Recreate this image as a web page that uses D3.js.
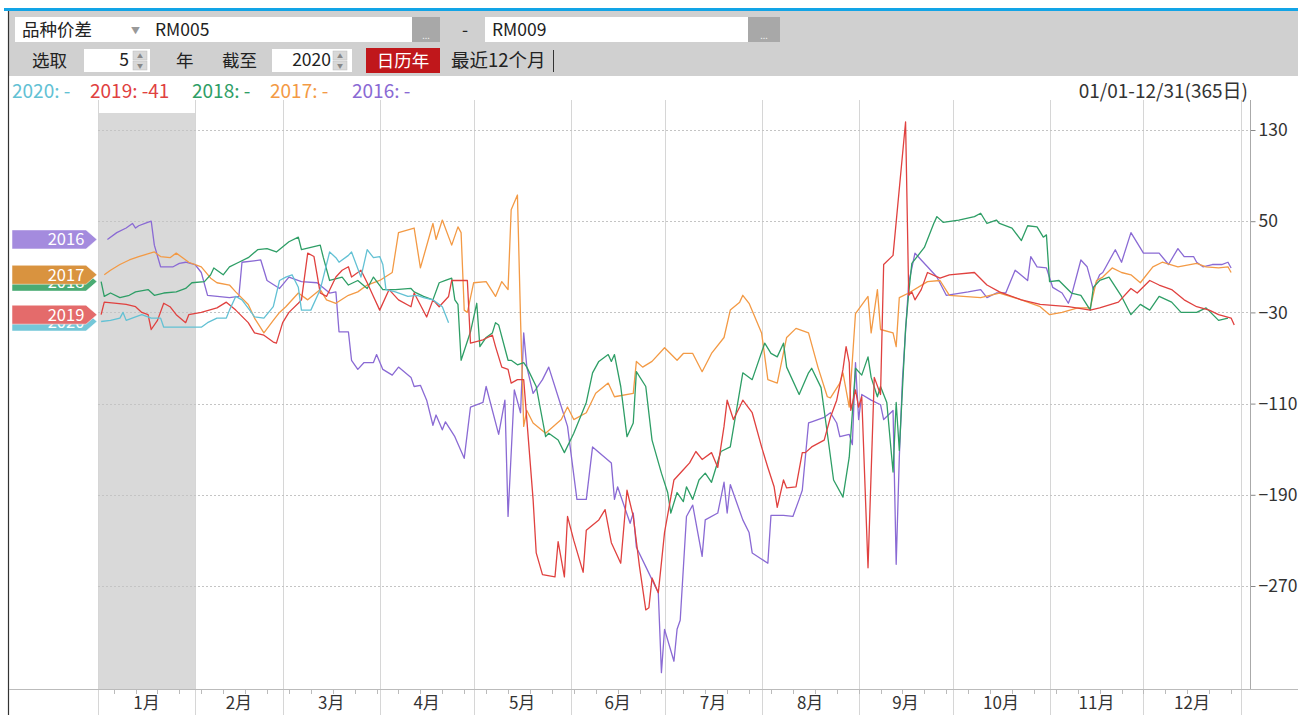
<!DOCTYPE html>
<html><head><meta charset="utf-8">
<script src="https://cdn.jsdelivr.net/npm/d3@7/dist/d3.min.js"></script>
<style>
body{margin:0;background:#fff;overflow:hidden}
svg{display:block;font-family:"Noto Sans CJK SC","Noto Sans",sans-serif}
</style></head>
<body><svg id="c" width="1298" height="715"></svg>
<script>
// ---------- data (day of year, spread value) ----------
const years = ["2020","2019","2018","2017","2016"];
const lastValues = ["-","-41","-","-","-"];
const monthLabels = ["1月","2月","3月","4月","5月","6月","7月","8月","9月","10月","11月","12月"];
const monthStarts = [0,31,59,90,120,151,181,212,243,273,304,334,365];
const yTicks = [130,50,-30,-110,-190,-270];

const s2020 = [[1,-38],[4,-37],[7,-35],[8,-30],[9,-37],[12,-34],[14,-32],[17,-35],[20,-35],[21,-43],[27,-43],[33,-43],[35,-39],[38,-35],[41,-35],[42,-28],[44,-16],[46,-19],[49,-30],[50,-34],[53,-35],[56,-25],[58,-2],[60,1],[62,3],[64,-8],[65,-28],[68,-28],[71,-10],[74,23],[76,18],[77,14],[80,20],[81,23],[84,1],[86,25],[88,18],[90,19],[91,12],[92,-10],[95,-12],[99,-16],[102,-15],[104,-17],[107,-19],[110,-25],[112,-39]];

const s2019 = [[1,-32],[2,-21],[6,-22],[9,-23],[12,-25],[14,-30],[16,-32],[17,-45],[19,-37],[21,-22],[23,-25],[25,-32],[28,-39],[29,-32],[33,-30],[38,-26],[41,-21],[44,-28],[48,-39],[50,-48],[53,-50],[56,-56],[57,-57],[59,-39],[61,-30],[64,-22],[65,-19],[67,22],[69,19],[71,-13],[73,-16],[76,1],[78,7],[80,10],[81,1],[84,7],[86,-4],[88,-16],[90,-28],[93,-10],[96,-19],[100,-25],[101,-13],[105,-34],[107,-19],[109,-25],[112,-16],[113,-2],[118,-2],[119,-57],[123,-54],[126,-50],[127,-60],[129,-78],[131,-80],[132,-92],[134,-89],[136,-89],[139,-194],[140,-241],[142,-260],[146,-262],[147,-231],[149,-262],[150,-209],[152,-230],[155,-258],[156,-221],[160,-212],[162,-203],[164,-232],[167,-250],[169,-186],[171,-209],[173,-253],[175,-291],[176,-289],[177,-263],[179,-276],[181,-223],[184,-177],[187,-168],[189,-162],[191,-152],[193,-159],[196,-153],[198,-166],[200,-130],[201,-107],[203,-124],[205,-113],[206,-107],[209,-118],[212,-148],[214,-166],[216,-183],[217,-201],[219,-177],[220,-184],[223,-183],[225,-153],[226,-153],[228,-148],[232,-142],[234,-122],[236,-107],[238,-80],[239,-60],[240,-74],[240.5,-116],[242,-98],[243,-113],[244,-104],[246,-254],[248,-87],[250,-102],[251,12],[254,20],[258,137],[259,-15],[260,-12],[261,-19],[263,-10],[265,5],[269,0],[272,3],[280,5],[284,-6],[288,-12],[295,-19],[301,-23],[310,-25],[317,-28],[320,-26],[326,-21],[330,-9],[332,-13],[336,-2],[339,-6],[343,-10],[347,-19],[351,-25],[355,-28],[358,-32],[362,-35],[363,-41]];

const s2018 = [[1,-3],[2,-16],[4,-13],[7,-17],[10,-15],[12,-12],[16,-10],[18,-15],[21,-13],[25,-12],[28,-9],[30,-4],[34,-3],[36,3],[37,9],[40,3],[42,10],[45,14],[48,18],[51,25],[54,26],[57,23],[61,32],[64,36],[65,25],[71,29],[72,18],[74,-2],[78,1],[80,-6],[83,-2],[86,-9],[88,1],[91,-10],[95,-10],[100,-9],[101,-12],[104,-16],[107,-19],[109,-4],[111,-2],[113,0],[114,-19],[115,-23],[116,-72],[119,-47],[121,-22],[122,-60],[124,-52],[126,-48],[127,-39],[128,-41],[131,-72],[132,-72],[134,-76],[136,-74],[137,-78],[140,-95],[143,-139],[144,-136],[147,-142],[149,-153],[152,-136],[156,-109],[158,-83],[160,-73],[163,-67],[164,-73],[165,-67],[167,-95],[169,-139],[171,-127],[172,-82],[175,-95],[177,-142],[180,-171],[182,-188],[183,-206],[185,-188],[187,-196],[188,-183],[190,-194],[192,-177],[194,-171],[196,-179],[199,-152],[202,-148],[206,-83],[209,-89],[213,-57],[215,-66],[217,-69],[219,-57],[220,-78],[224,-102],[227,-83],[228,-79],[231,-96],[233,-136],[235,-177],[238,-192],[240,-157],[242,-79],[244,-85],[246,-69],[247,-87],[249,-104],[250,-95],[252,-109],[254,-170],[255,-109],[256,-151],[258,-44],[259,-13],[260,13],[264,27],[267,48],[268,54],[270,49],[275,51],[280,54],[282,57],[284,48],[287,51],[288,48],[292,44],[295,33],[297,46],[300,45],[302,36],[303,38],[304,-3],[307,-2],[311,-13],[314,-15],[317,-28],[318,-8],[320,-2],[323,1],[327,-16],[330,-32],[333,-23],[336,-28],[339,-16],[343,-21],[346,-30],[351,-30],[354,-26],[358,-37],[361,-35]];

const s2017 = [[2,3],[4,7],[7,12],[10,16],[13,19],[18,23],[20,19],[23,18],[25,22],[29,14],[33,10],[36,0],[38,-4],[42,-6],[44,-12],[48,-23],[50,-35],[53,-48],[56,-37],[58,-30],[60,-25],[64,-13],[67,-19],[71,-10],[73,-19],[76,-22],[80,-15],[83,-12],[86,-6],[90,-2],[94,5],[96,40],[101,44],[103,9],[107,48],[108,34],[110,51],[113,29],[115,45],[116,40],[117,-28],[118,-30],[120,-4],[124,-3],[127,-16],[129,-3],[131,-10],[132,60],[134,73],[135,-37],[136,-130],[137,-116],[139,-127],[143,-136],[148,-124],[150,-113],[152,-124],[156,-118],[159,-101],[163,-92],[165,-104],[171,-101],[172,-73],[174,-78],[177,-73],[181,-61],[185,-72],[187,-66],[190,-66],[193,-82],[196,-66],[200,-52],[202,-28],[205,-21],[206,-15],[208,-22],[212,-48],[214,-89],[217,-92],[220,-52],[223,-44],[227,-48],[230,-78],[233,-104],[234,-105],[237,-92],[238,-83],[240,-113],[242,-31],[246,-16],[247,-48],[249,-10],[250,-45],[254,-48],[255,-60],[256,-17],[259,-13],[265,-3],[269,-2],[272,-15],[282,-17],[288,-13],[295,-19],[301,-25],[304,-32],[308,-30],[313,-26],[317,-26],[319,-2],[321,1],[324,9],[327,5],[330,3],[333,-4],[337,10],[340,14],[345,10],[351,13],[354,10],[358,9],[361,10],[362,5]];

const s2016 = [[3,34],[6,40],[9,44],[11,48],[12,44],[13,46],[15,48],[17,50],[18,29],[20,10],[24,10],[26,13],[28,14],[31,12],[33,5],[35,-15],[42,-17],[45,-16],[46,14],[52,16],[54,-2],[58,-9],[61,1],[65,-3],[70,-4],[74,-13],[76,-12],[77,-47],[80,-47],[81,-72],[83,-80],[85,-74],[88,-74],[89,-67],[91,-80],[94,-85],[96,-78],[100,-87],[101,-95],[103,-94],[105,-107],[107,-129],[108,-120],[110,-133],[111,-126],[114,-139],[117,-158],[119,-113],[123,-109],[124,-95],[128,-137],[130,-107],[131,-209],[133,-98],[135,-118],[136,-48],[137,-78],[139,-101],[142,-89],[144,-78],[147,-104],[150,-130],[153,-194],[156,-194],[158,-148],[164,-162],[165,-194],[166,-183],[170,-215],[171,-206],[172,-236],[175,-253],[179,-276],[180,-346],[181,-308],[184,-336],[185,-308],[186,-300],[188,-209],[190,-199],[193,-244],[194,-212],[198,-206],[200,-179],[201,-206],[202,-181],[206,-212],[208,-223],[209,-241],[214,-250],[215,-208],[219,-208],[222,-209],[224,-194],[225,-186],[227,-127],[228,-126],[232,-122],[234,-118],[236,-127],[237,-139],[240,-137],[241,-146],[242,-74],[243,-124],[244,-102],[247,-107],[250,-111],[251,-124],[254,-116],[255,-251],[256,-157],[257,-89],[259,-4],[261,22],[263,16],[265,10],[268,1],[271,-15],[278,-12],[282,-10],[284,-17],[287,-13],[290,-13],[293,7],[297,-2],[298,19],[300,10],[303,9],[305,-8],[308,-13],[310,-22],[311,-15],[314,16],[316,10],[318,-10],[320,3],[321,5],[325,25],[327,14],[330,40],[334,22],[339,22],[342,12],[345,26],[347,19],[350,19],[351,14],[353,10],[356,12],[359,12],[361,14],[362,9]];

const seriesData = [s2020, s2019, s2018, s2017, s2016];
const lineColors = ["#62c1d4","#e0413f","#2e9e66","#f39a45","#8a6ad4"];
const tagColors  = ["#74c7d8","#e46b6b","#4aab73","#d9933f","#a48bde"];

// ---------- layout ----------
const svg = d3.select("#c");
const W = 1298, H = 715;
const plotTop = 100, bandTop = 113, plotBottom = 689, axisX = 1250;
const x = d3.scaleLinear().domain([0,365]).range([98,1240.5]);
const y = d3.scaleLinear().domain([130,-270]).range([130,586]);

// top strip + toolbar
svg.append("rect").attr("x",0).attr("y",0).attr("width",W).attr("height",H).attr("fill","#fff");
svg.append("rect").attr("x",4).attr("y",8).attr("width",W-4).attr("height",3).attr("fill","#12a4e6");
svg.append("rect").attr("x",9).attr("y",11).attr("width",W-9).attr("height",65).attr("fill","#d0d0d0");

const tb = svg.append("g").attr("font-size",17.5).attr("fill","#222");
tb.append("rect").attr("x",15).attr("y",17).attr("width",397).attr("height",25).attr("fill","#fff");
tb.append("text").attr("x",22).attr("y",36).text("品种价差");
tb.append("text").attr("x",131).attr("y",34).attr("font-size",9).attr("fill","#999").text("▼");
tb.append("text").attr("x",155).attr("y",36).text("RM005");
tb.append("rect").attr("x",412).attr("y",17).attr("width",28).attr("height",25).attr("fill","#a8a8a8");
tb.append("text").attr("x",426).attr("y",39).attr("text-anchor","middle").attr("font-size",9).attr("fill","#eee").text("...");
tb.append("text").attr("x",465).attr("y",36).attr("text-anchor","middle").text("-");
tb.append("rect").attr("x",485).attr("y",17).attr("width",263).attr("height",25).attr("fill","#fff");
tb.append("text").attr("x",492).attr("y",36).text("RM009");
tb.append("rect").attr("x",748).attr("y",17).attr("width",32).attr("height",25).attr("fill","#a8a8a8");
tb.append("text").attr("x",764).attr("y",39).attr("text-anchor","middle").attr("font-size",9).attr("fill","#eee").text("...");

tb.append("text").attr("x",32).attr("y",67).text("选取");
tb.append("rect").attr("x",84).attr("y",49).attr("width",66).attr("height",23).attr("fill","#fff");
tb.append("text").attr("x",129).attr("y",66).attr("text-anchor","end").text("5");
tb.append("text").attr("x",176).attr("y",67).text("年");
tb.append("text").attr("x",222).attr("y",67).text("截至");
tb.append("rect").attr("x",272).attr("y",49).attr("width",80).attr("height",23).attr("fill","#fff");
tb.append("text").attr("x",331).attr("y",66).attr("text-anchor","end").text("2020");
[[133,51],[133,61],[333,51],[333,61]].forEach(p=>{
  tb.append("rect").attr("x",p[0]).attr("y",p[1]).attr("width",14).attr("height",9).attr("fill","#d8d8d8").attr("stroke","#bbb").attr("stroke-width",0.5);
});
[[140,58,"▲"],[140,68,"▼"],[340,58,"▲"],[340,68,"▼"]].forEach(p=>{
  tb.append("text").attr("x",p[0]).attr("y",p[1]).attr("text-anchor","middle").attr("font-size",6).attr("fill","#888").text(p[2]);
});
tb.append("rect").attr("x",366).attr("y",48).attr("width",74).attr("height",25).attr("fill","#c0171b");
tb.append("text").attr("x",403).attr("y",67).attr("text-anchor","middle").attr("fill","#fff").text("日历年");
tb.append("text").attr("x",451).attr("y",67).attr("font-size",18.5).text("最近12个月");
tb.append("line").attr("x1",553.5).attr("x2",553.5).attr("y1",50).attr("y2",72).attr("stroke","#333");

// left border
svg.append("line").attr("x1",8.5).attr("x2",8.5).attr("y1",11).attr("y2",H).attr("stroke","#333").attr("stroke-width",1.2);

// legend
const legX = [12,90,192,270,352];
const leg = svg.append("g").attr("font-size",19);
years.forEach((yr,i)=>{
  leg.append("text").attr("x",legX[i]).attr("y",98).attr("fill",lineColors[i]).text(yr+": "+lastValues[i]);
});
svg.append("text").attr("x",1248).attr("y",98).attr("text-anchor","end").attr("font-size",19).attr("fill","#333").text("01/01-12/31(365日)");

// gray band (January)
svg.append("rect").attr("x",x(0)).attr("y",bandTop).attr("width",x(31)-x(0)).attr("height",plotBottom-bandTop).attr("fill","#d9d9d9");

// vertical month lines
svg.append("g").selectAll("line").data(monthStarts).join("line")
  .attr("x1",d=>Math.round(x(d))+0.5).attr("x2",d=>Math.round(x(d))+0.5)
  .attr("y1",plotTop).attr("y2",H).attr("stroke","#d6d6d6").attr("stroke-width",1);

// horizontal dotted grid
svg.append("g").selectAll("line").data(yTicks).join("line")
  .attr("x1",x(0)).attr("x2",axisX).attr("y1",d=>Math.round(y(d))+0.5).attr("y2",d=>Math.round(y(d))+0.5)
  .attr("stroke","#c4c4c4").attr("stroke-dasharray","2,2");

// right axis
const yAxis = d3.axisRight(y).tickValues(yTicks).tickSize(5).tickPadding(3);
const ya = svg.append("g").attr("transform",`translate(${axisX+0.5},0)`).call(yAxis);
ya.select(".domain").remove();
ya.append("line").attr("x1",0).attr("x2",0).attr("y1",plotTop).attr("y2",plotBottom).attr("stroke","#aaa");
ya.selectAll(".tick line").attr("stroke","#888");
ya.selectAll(".tick text").attr("font-size",17.5).attr("fill","#333").attr("font-family","'Noto Sans CJK SC','Noto Sans',sans-serif");

// bottom axis
svg.append("line").attr("x1",9).attr("x2",W).attr("y1",plotBottom+0.5).attr("y2",plotBottom+0.5).attr("stroke","#bbb");
const weekTicks = d3.range(5,365,7);
svg.append("g").selectAll("line").data(weekTicks).join("line")
  .attr("x1",d=>Math.round(x(d))+0.5).attr("x2",d=>Math.round(x(d))+0.5)
  .attr("y1",plotBottom+1).attr("y2",plotBottom+5).attr("stroke","#bbb");
svg.append("g").selectAll("text").data(monthLabels).join("text")
  .attr("x",(d,i)=>(x(monthStarts[i])+x(monthStarts[i+1]))/2)
  .attr("y",709).attr("text-anchor","middle").attr("font-size",17).attr("fill","#333").text(d=>d);

// series lines
const line = d3.line().x(d=>x(d[0])).y(d=>y(d[1]));
const drawOrder = [4,3,2,1,0];
svg.append("g").selectAll("path").data(drawOrder).join("path")
  .attr("d",i=>line(seriesData[i])).attr("fill","none")
  .attr("stroke",i=>lineColors[i]).attr("stroke-width",1.3).attr("stroke-linejoin","round");

// left tags at each series' first value (later ones drawn on top, as in the reference)
const tagOrder = [4,2,3,0,1];
const tags = svg.append("g");
tagOrder.forEach(i=>{
  const cy = y(seriesData[i][0][1]);
  const h = 19, x0 = 12, x1 = 86, tip = 97;
  tags.append("path")
    .attr("d",`M${x0},${cy-h/2}H${x1}L${tip},${cy}L${x1},${cy+h/2}H${x0}Z`)
    .attr("fill",tagColors[i]).attr("stroke","#fff").attr("stroke-opacity",0.5).attr("stroke-width",1);
  tags.append("text").attr("x",66).attr("y",cy+6).attr("text-anchor","middle")
    .attr("font-size",16.5).attr("fill","#fff").text(years[i]);
});
</script>
</body></html>
